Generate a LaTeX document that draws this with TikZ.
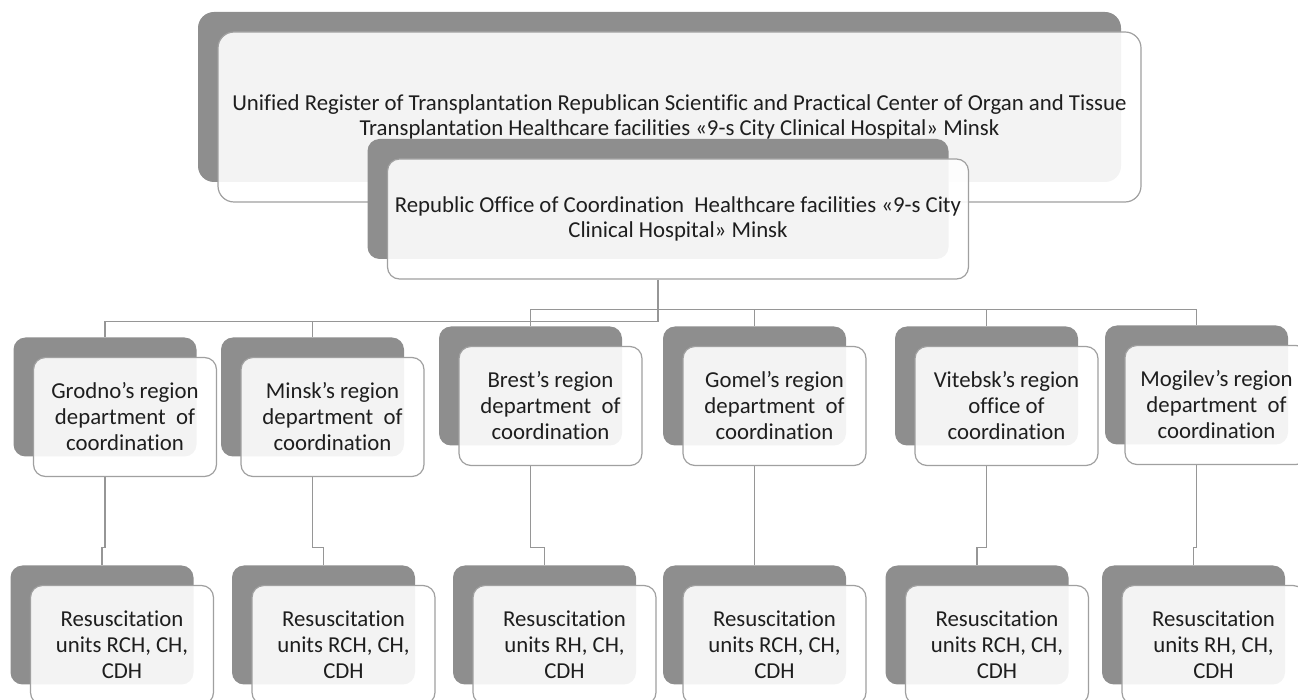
\documentclass[tikz,border=0pt]{standalone}
\usepackage{fontspec}
\setmainfont[Ligatures=NoCommon]{Carlito}
\usetikzlibrary{shadows, backgrounds}
\definecolor{boxdark}{RGB}{142,142,142}
\definecolor{boxline}{RGB}{160,160,160}
\definecolor{linkgray}{RGB}{150,150,150}
\definecolor{textgray}{RGB}{30,30,30}

\begin{document}
\begin{tikzpicture}[x=0.5pt, y=-0.5pt,
    card/.style={draw=boxline, line width=0.6pt, fill=white, fill opacity=0.9, text opacity=1,
        rounded corners=6pt, inner sep=0pt, align=center, text=textgray,
        font=\fontsize{11.4}{13}\selectfont,
        general shadow={fill=boxdark, fill opacity=1, shadow xshift=-10pt, shadow yshift=10pt}},
    region/.style={card, minimum width=91.5pt, minimum height=59.5pt},
    unit/.style={card, minimum width=91.5pt, minimum height=59.5pt},
    link/.style={draw=linkgray, line width=0.6pt}]
        \useasboundingbox (0,0) rectangle (1298,700);

        % top level
        \node[card, rounded corners=8pt, font=\fontsize{11.4}{12.2}\selectfont, minimum width=461.5pt, minimum height=85pt] (register) at (679.5,117)
            {Unified Register of Transplantation Republican Scientific and Practical Center of Organ and Tissue\\
             Transplantation Healthcare facilities «9-s City Clinical Hospital» Minsk};
        \node[card, font=\fontsize{11.4}{12.2}\selectfont, minimum width=290.5pt, minimum height=60pt] (office) at (678,219)
            {Republic Office of Coordination~ Healthcare facilities «9-s City\\ Clinical Hospital» Minsk};

        % regions
        \node[region] (grodno) at (125,417) {Grodno’s region\\ department~ of\\ coordination};
        \node[region] (minsk) at (332.5,417) {Minsk’s region\\ department~ of\\ coordination};
        \node[region] (brest) at (550.5,406) {Brest’s region\\ department~ of\\ coordination};
        \node[region] (gomel) at (774.5,406) {Gomel’s region\\ department~ of\\ coordination};
        \node[region] (vitebsk) at (1006.5,406) {Vitebsk’s region\\ office of\\ coordination};
        \node[region] (mogilev) at (1216.5,405) {Mogilev’s region\\ department~ of\\ coordination};

        % resuscitation units
        \node[unit] (resA) at (122,645) {Resuscitation\\ units RCH, CH,\\ CDH};
        \node[unit] (resB) at (343.5,645) {Resuscitation\\ units RCH, CH,\\ CDH};
        \node[unit] (resC) at (564.5,645) {Resuscitation\\ units RH, CH,\\ CDH};
        \node[unit] (resD) at (774.5,645) {Resuscitation\\ units RCH, CH,\\ CDH};
        \node[unit] (resE) at (997,645) {Resuscitation\\ units RCH, CH,\\ CDH};
        \node[unit] (resF) at (1213.5,645) {Resuscitation\\ units RH, CH,\\ CDH};

        \begin{pgfonlayer}{background}
        \draw[link] ([xshift=-10pt]office.south) -- ++(0,42) -| ([xshift=-10pt,yshift=10pt]grodno.north);
        \draw[link] ([xshift=-10pt]office.south) ++(0,42) -| ([xshift=-10pt,yshift=10pt]minsk.north);
        \draw[link] ([xshift=-10pt]office.south) ++(0,30) -| ([xshift=-10pt,yshift=10pt]brest.north);
        \draw[link] ([xshift=-10pt]office.south) ++(0,30) -| ([xshift=-10pt,yshift=10pt]gomel.north);
        \draw[link] ([xshift=-10pt]office.south) ++(0,30) -| ([xshift=-10pt,yshift=10pt]vitebsk.north);
        \draw[link] ([xshift=-10pt]office.south) ++(0,30) -| ([xshift=-10pt,yshift=10pt]mogilev.north);

        \draw[link] ([xshift=-10pt]grodno.south) |- ([xshift=-10pt,yshift=18.5pt]resA.north) -- ([xshift=-10pt,yshift=10pt]resA.north);
        \draw[link] ([xshift=-10pt]minsk.south) |- ([xshift=-10pt,yshift=18.5pt]resB.north) -- ([xshift=-10pt,yshift=10pt]resB.north);
        \draw[link] ([xshift=-10pt]brest.south) |- ([xshift=-10pt,yshift=18.5pt]resC.north) -- ([xshift=-10pt,yshift=10pt]resC.north);
        \draw[link] ([xshift=-10pt]gomel.south) |- ([xshift=-10pt,yshift=18.5pt]resD.north) -- ([xshift=-10pt,yshift=10pt]resD.north);
        \draw[link] ([xshift=-10pt]vitebsk.south) |- ([xshift=-10pt,yshift=18.5pt]resE.north) -- ([xshift=-10pt,yshift=10pt]resE.north);
        \draw[link] ([xshift=-10pt]mogilev.south) |- ([xshift=-10pt,yshift=18.5pt]resF.north) -- ([xshift=-10pt,yshift=10pt]resF.north);
        \end{pgfonlayer}
\end{tikzpicture}
\end{document}
